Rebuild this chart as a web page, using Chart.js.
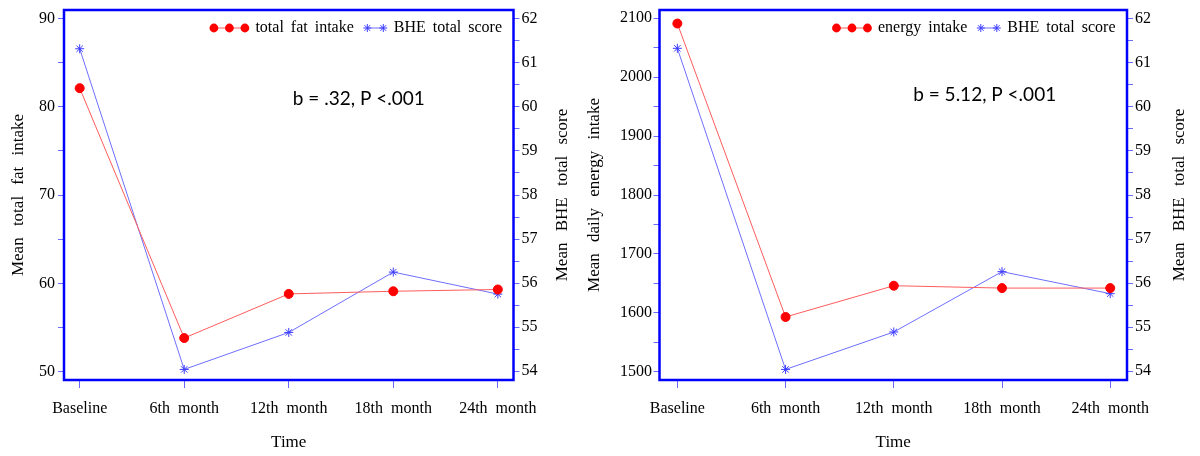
<!DOCTYPE html>
<html>
<head>
<meta charset="utf-8">
<script src="https://cdn.jsdelivr.net/npm/chart.js@4.4.0/dist/chart.umd.min.js"></script>
<style>
  html, body { margin: 0; padding: 0; background: #fff; }
  #wrap { position: relative; width: 1200px; height: 456px; }
  .box { position: absolute; top: 0; height: 456px; }
  #leftBox { left: 0; width: 580px; }
  #rightBox { left: 580px; width: 620px; }
</style>
</head>
<body>
<div id="wrap">
  <div class="box" id="leftBox"><canvas id="fatCanvas"></canvas></div>
  <div class="box" id="rightBox"><canvas id="energyCanvas"></canvas></div>
</div>
<script>
// values
const timepoints = ["Baseline", "6th month", "12th month", "18th month", "24th month"];
const fatIntake = [82.1, 53.8, 58.8, 59.1, 59.3];
const bheWithFat = [61.32, 54.04, 54.88, 56.25, 55.75];
const energyIntake = [2091, 1593, 1646, 1642, 1642];
const bheWithEnergy = [61.33, 54.04, 54.89, 56.26, 55.76];

const fatTicks = [50, 60, 70, 80, 90];
const energyTicks = [1500, 1600, 1700, 1800, 1900, 2000, 2100];
const bheTicks = [54, 55, 56, 57, 58, 59, 60, 61, 62];

const serif = "'Liberation Serif', 'DejaVu Serif', serif";
const frameBlue = "#0000ff";
const tickBlue = "#6a6aff";

// majors plus a minor tick halfway between each pair
function withMinor(ticks) {
    const out = [];
    ticks.forEach((t, i) => {
        out.push(t);
        if (i < ticks.length - 1) out.push((t + ticks[i + 1]) / 2);
    });
    return out;
}

function points(values) {
    return values.map((v, i) => ({ x: i, y: v }));
}

// SAS-style wide gaps between words in the tick labels
const spacingPlugin = {
    id: "spacing",
    beforeDraw(chart) { chart.ctx.wordSpacing = "4px"; }
};

const framePlugin = {
    id: "frame",
    afterDatasetsDraw(chart) {
        const { ctx, chartArea: a } = chart;
        ctx.save();
        ctx.strokeStyle = frameBlue;
        ctx.lineWidth = 2.5;
        ctx.strokeRect(a.left, a.top, a.right - a.left, a.bottom - a.top);
        ctx.restore();
    }
};

// axis titles; both vertical ones read bottom to top
const titlesPlugin = {
    id: "titles",
    afterDraw(chart, args, opts) {
        const { ctx, chartArea: a } = chart;
        const midY = (a.top + a.bottom) / 2;
        ctx.save();
        ctx.font = "17px " + serif;
        ctx.wordSpacing = "7px";
        ctx.fillStyle = "#000";
        ctx.textAlign = "center";
        ctx.textBaseline = "middle";
        ctx.fillText(opts.bottom, (a.left + a.right) / 2, opts.bottomY);
        [[opts.left, opts.leftX], [opts.right, chart.width - opts.rightFromEdge]].forEach(([text, x]) => {
            ctx.save();
            ctx.translate(x, midY);
            ctx.rotate(-Math.PI / 2);
            ctx.fillText(text, 0, 0);
            ctx.restore();
        });
        ctx.restore();
    }
};

const statPlugin = {
    id: "stat",
    afterDraw(chart, args, opts) {
        const { ctx, scales } = chart;
        ctx.save();
        ctx.wordSpacing = "0px";
        ctx.font = "19px Lato, 'Open Sans', sans-serif";
        ctx.fillStyle = "#000";
        ctx.textAlign = "center";
        ctx.textBaseline = "middle";
        ctx.fillText(opts.text, scales.x.getPixelForValue(opts.at[0]), scales.y.getPixelForValue(opts.at[1]));
        ctx.restore();
    }
};

// legend in the top right corner of the frame
const legendPlugin = {
    id: "cornerLegend",
    afterDraw(chart) {
        const { ctx, chartArea: a } = chart;
        const ds = chart.data.datasets;
        const y = a.top + 18;
        ctx.save();
        ctx.font = "16px " + serif;
        ctx.wordSpacing = "3px";
        ctx.textBaseline = "middle";
        ctx.textAlign = "left";
        const w1 = ctx.measureText(ds[0].label).width;
        const w2 = ctx.measureText(ds[1].label).width;
        const text2 = a.right - 11.5 - w2;
        const star2 = text2 - 10.5;
        const star1 = star2 - 16;
        const text1 = star1 - 13.5 - w1;
        const dot3 = text1 - 10.5;
        const dots = [dot3 - 31, dot3 - 15.5, dot3];

        ctx.strokeStyle = ds[0].borderColor;
        ctx.lineWidth = 1;
        ctx.beginPath(); ctx.moveTo(dots[0], y); ctx.lineTo(dot3, y); ctx.stroke();
        ctx.fillStyle = ds[0].pointBackgroundColor;
        dots.forEach(x => { ctx.beginPath(); ctx.arc(x, y, 4.4, 0, Math.PI * 2); ctx.fill(); });
        ctx.fillStyle = "#000";
        ctx.fillText(ds[0].label, text1, y);

        ctx.strokeStyle = ds[1].borderColor;
        ctx.beginPath(); ctx.moveTo(star1, y); ctx.lineTo(star2, y); ctx.stroke();
        ctx.strokeStyle = ds[1].pointBorderColor;
        [star1, star2].forEach(x => {
            Chart.helpers.drawPoint(ctx, { pointStyle: "star", radius: 4, borderWidth: 1 }, x, y);
        });
        ctx.fillStyle = "#000";
        ctx.fillText(ds[1].label, text2, y);
        ctx.restore();
    }
};

function makeChart(canvasId, cfg) {
    const tickFont = { family: serif, size: 16 };
    return new Chart(document.getElementById(canvasId), {
        type: "line",
        data: {
            datasets: [{
                label: cfg.leftLabel,
                data: points(cfg.leftValues),
                yAxisID: "y",
                borderColor: "#ff5c5c",
                borderWidth: 1,
                pointStyle: "circle",
                pointRadius: 4.5,
                pointBackgroundColor: "#ff0000",
                pointBorderColor: "#ff0000",
                pointBorderWidth: 1
            }, {
                label: "BHE total score",
                data: points(cfg.rightValues),
                yAxisID: "y2",
                borderColor: "#6e6eff",
                borderWidth: 1,
                pointStyle: "star",
                pointRadius: 4.5,
                pointBackgroundColor: "#3c3cff",
                pointBorderColor: "#3c3cff",
                pointBorderWidth: 1
            }]
        },
        options: {
            responsive: true,
            maintainAspectRatio: false,
            animation: false,
            layout: { padding: { top: 10, left: 0, right: 0, bottom: 0 } },
            plugins: {
                legend: { display: false },
                tooltip: { enabled: false },
                titles: {
                    bottom: "Time", bottomY: 443,
                    left: cfg.leftTitle, leftX: cfg.leftTitleX,
                    right: "Mean BHE total score", rightFromEdge: cfg.rightTitleFromEdge
                },
                stat: { text: cfg.statText, at: cfg.statAt }
            },
            scales: {
                x: {
                    type: "linear",
                    min: cfg.xRange[0],
                    max: cfg.xRange[1],
                    afterBuildTicks: axis => { axis.ticks = timepoints.map((_, i) => ({ value: i })); },
                    afterFit: s => { s.height = 76; s.paddingLeft = 0; s.paddingRight = 0; },
                    grid: { drawOnChartArea: false, drawTicks: true, tickLength: 8, color: tickBlue },
                    border: { display: false },
                    ticks: {
                        autoSkip: false, maxRotation: 0, padding: 11,
                        color: "#000", font: tickFont,
                        callback: v => timepoints[v]
                    }
                },
                y: {
                    position: "left",
                    min: cfg.leftRange[0],
                    max: cfg.leftRange[1],
                    afterBuildTicks: axis => { axis.ticks = withMinor(cfg.leftTicks).map(v => ({ value: v })); },
                    afterFit: s => { s.width = cfg.leftWidth; s.paddingTop = 0; s.paddingBottom = 0; },
                    grid: { drawOnChartArea: false, drawTicks: true, tickLength: 6, color: tickBlue },
                    border: { display: false },
                    ticks: {
                        padding: cfg.leftTickPad, color: "#000", font: tickFont,
                        callback: v => cfg.leftTicks.includes(v) ? String(v) : ""
                    }
                },
                y2: {
                    position: "right",
                    min: 53.8,
                    max: 62.2,
                    afterBuildTicks: axis => { axis.ticks = withMinor(bheTicks).map(v => ({ value: v })); },
                    afterFit: s => { s.width = cfg.rightWidth; s.paddingTop = 0; s.paddingBottom = 0; },
                    grid: { drawOnChartArea: false, drawTicks: true, tickLength: 6, color: tickBlue },
                    border: { display: false },
                    ticks: {
                        padding: 2, color: "#000", font: tickFont,
                        callback: v => bheTicks.includes(v) ? String(v) : ""
                    }
                }
            }
        },
        plugins: [spacingPlugin, framePlugin, titlesPlugin, statPlugin, legendPlugin]
    });
}

makeChart("fatCanvas", {
    leftLabel: "total fat intake",
    leftValues: fatIntake,
    rightValues: bheWithFat,
    leftTicks: fatTicks,
    leftRange: [49.05, 90.95],
    leftTitle: "Mean total fat intake",
    leftTitleX: 18.5,
    leftWidth: 64,
    leftTickPad: 3,
    rightWidth: 66.5,
    rightTitleFromEdge: 17,
    xRange: [-0.15, 4.15],
    statText: "b = .32, P <.001",
    statAt: [2.67, 80.9]
});

makeChart("energyCanvas", {
    leftLabel: "energy intake",
    leftValues: energyIntake,
    rightValues: bheWithEnergy,
    leftTicks: energyTicks,
    leftRange: [1486, 2114],
    leftTitle: "Mean daily energy intake",
    leftTitleX: 15,
    leftWidth: 79.5,
    leftTickPad: 1.5,
    rightWidth: 73,
    rightTitleFromEdge: 20,
    xRange: [-0.165, 4.155],
    statText: "b = 5.12, P <.001",
    statAt: [2.84, 1970]
});
</script>
</body>
</html>
